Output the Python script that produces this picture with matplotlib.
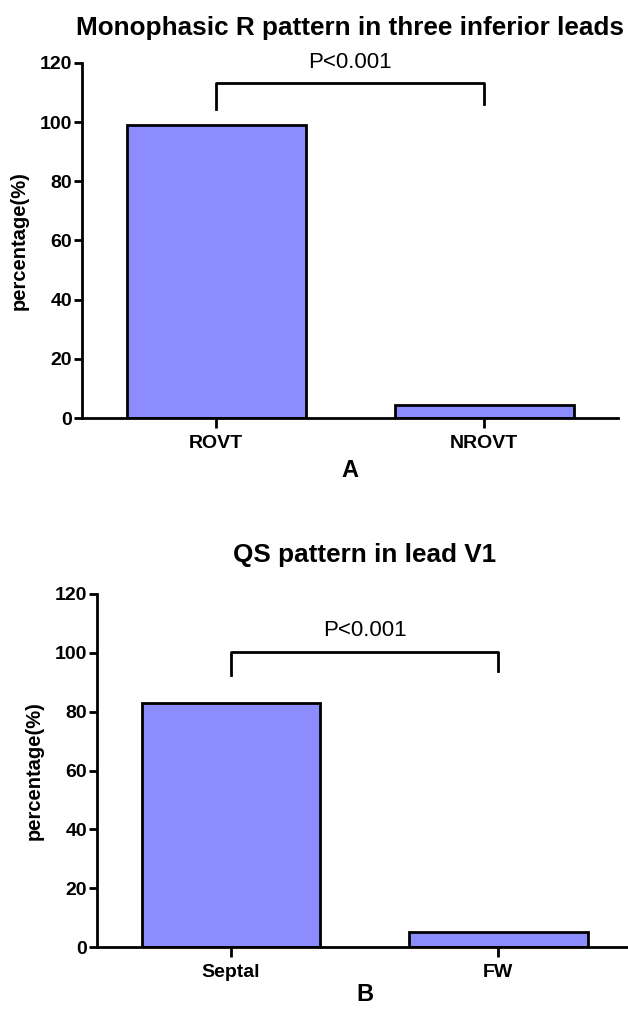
import matplotlib.pyplot as plt
import numpy as np

plt.rcParams['font.family'] = ['Liberation Sans', 'DejaVu Sans']

# panel A
cats_a = ['ROVT', 'NROVT']
vals_a = [99, 4.5]
# panel B
cats_b = ['Septal', 'FW']
vals_b = [83, 5.1]

yticks = [0, 20, 40, 60, 80, 100, 120]
bar_color = '#8c8cff'

# bracket: (top, left tick end, right tick end, text y)
bracket_a = (113.2, 104.5, 106.0, 120.0)
bracket_b = (100.4, 92.3, 93.7, 107.5)

fig = plt.figure(figsize=(6.28, 10.09), dpi=100)
ax1 = fig.add_axes([0.1306, 0.5857, 0.854, 0.3519])
ax2 = fig.add_axes([0.1545, 0.0614, 0.852, 0.3499])


def draw(ax, cats, vals, title, label, bracket, title_pad, label_pad):
    x = np.arange(len(cats))
    ax.bar(x, vals, width=0.667, color=bar_color, edgecolor='black', linewidth=2)
    ax.set_xlim(-0.5, 1.5)
    ax.set_ylim(0, 120)
    ax.set_yticks(yticks)
    ax.set_xticks(x)
    ax.set_xticklabels(cats)
    for s in ['top', 'right']:
        ax.spines[s].set_visible(False)
    for s in ['left', 'bottom']:
        ax.spines[s].set_linewidth(2)
    ax.tick_params(axis='y', length=6, width=2, pad=1, labelsize=14)
    ax.tick_params(axis='x', length=7, width=2, pad=5, labelsize=14)
    for t in ax.get_xticklabels() + ax.get_yticklabels():
        t.set_fontweight('bold')
    ax.set_ylabel('percentage(%)', fontsize=14.5, fontweight='bold', labelpad=8)
    ax.set_xlabel(label, fontsize=17, fontweight='bold', labelpad=label_pad)
    ax.set_title(title, fontsize=18.8, fontweight='bold', pad=title_pad)

    top, lend, rend, ty = bracket
    ax.plot([x[0], x[0], x[1], x[1]], [lend, top, top, rend], color='black',
            lw=2, clip_on=False)
    ax.text((x[0] + x[1]) / 2, ty, 'P<0.001', ha='center', va='center',
            fontsize=16)


draw(ax1, cats_a, vals_a, 'Monophasic R pattern in three inferior leads', 'A',
     bracket_a, 20, 5)
draw(ax2, cats_b, vals_b, 'QS pattern in lead V1', 'B', bracket_b, 23, 2)

fig.savefig('out.png', dpi=100)
